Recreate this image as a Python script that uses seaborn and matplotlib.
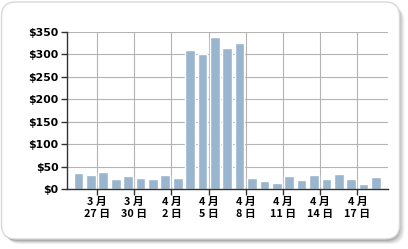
import matplotlib
matplotlib.use("Agg")
import matplotlib.pyplot as plt
import seaborn as sns
import pandas as pd
import numpy as np
from matplotlib.patches import FancyBboxPatch

# Data
days = ["3/25", "3/26", "3/27", "3/28", "3/29", "3/30", "3/31", "4/1", "4/2", "4/3",
        "4/4", "4/5", "4/6", "4/7", "4/8", "4/9", "4/10", "4/11", "4/12", "4/13",
        "4/14", "4/15", "4/16", "4/17", "4/18"]
values = [35, 32, 38, 23, 30, 25, 23, 32, 25, 309,
          301, 338, 314, 325, 25, 18, 14, 30, 21, 32,
          23, 34, 23, 12, 27]
tick_days = [2, 5, 8, 11, 14, 17, 20, 23]
tick_labels = ["3 月\n27 日", "3 月\n30 日", "4 月\n2 日", "4 月\n5 日",
               "4 月\n8 日", "4 月\n11 日", "4 月\n14 日", "4 月\n17 日"]
y_ticks = [0, 50, 100, 150, 200, 250, 300, 350]

sns.set_theme(style="white")
plt.rcParams['font.family'] = ['Noto Sans CJK SC', 'DejaVu Sans']

W, H = 408, 249
fig = plt.figure(figsize=(W / 100, H / 100), dpi=100)
fig.patch.set_facecolor("white")

# soft shadow (layered) and frame
for k, a in enumerate([0.06, 0.08, 0.10, 0.12, 0.14]):
    off = 5 - k
    sh = FancyBboxPatch(((1.5 + off) / W, 1 - (239 + off) / H), (398 - k * 0.5) / W, 237 / H,
                        boxstyle="round,pad=0,rounding_size=0.035",
                        transform=fig.transFigure, facecolor="black", alpha=a,
                        edgecolor="none", zorder=-3, mutation_aspect=W / H)
    fig.patches.append(sh)
frame = FancyBboxPatch((1.5 / W, 1 - 239 / H), 398 / W, 237 / H,
                       boxstyle="round,pad=0,rounding_size=0.035",
                       transform=fig.transFigure, facecolor="white",
                       edgecolor="#d8d8d8", linewidth=1, zorder=-1,
                       mutation_aspect=W / H)
fig.patches.append(frame)

ax = fig.add_axes([67 / W, 1 - 189 / H, 321 / W, 157 / H])
ax.set_zorder(5)
ax.set_facecolor("none")

df = pd.DataFrame({"pos": np.arange(len(values)), "value": values})
ax.bar(df["pos"], df["value"], width=0.78, color="#9ab6cf", zorder=3)

ax.set_xlim(-0.93, 24.97)
ax.set_ylim(0, 350)
ax.set_yticks(y_ticks)
ax.set_yticklabels([f"${v}" for v in y_ticks], fontweight="bold", fontsize=7.8,
                   family=['DejaVu Sans'])
ax.set_xticks([t - 0.5 for t in tick_days])
ax.set_xticklabels(tick_labels, fontweight="bold", fontsize=7.8, linespacing=1.15)

ax.grid(True, color="#b4b4b4", linewidth=0.8, zorder=0)
ax.set_axisbelow(True)
for s in ["top", "right"]:
    ax.spines[s].set_visible(False)
for s in ["left", "bottom"]:
    ax.spines[s].set_color("#333333")
    ax.spines[s].set_linewidth(1)
    ax.spines[s].set_zorder(4)
ax.tick_params(axis="both", which="both", length=4, width=1, color="#333333",
               pad=2, labelcolor="black", direction="out", left=True, bottom=True)
ax.set_xlabel("")
ax.set_ylabel("")

fig.savefig("out.png", dpi=100, facecolor="white")
